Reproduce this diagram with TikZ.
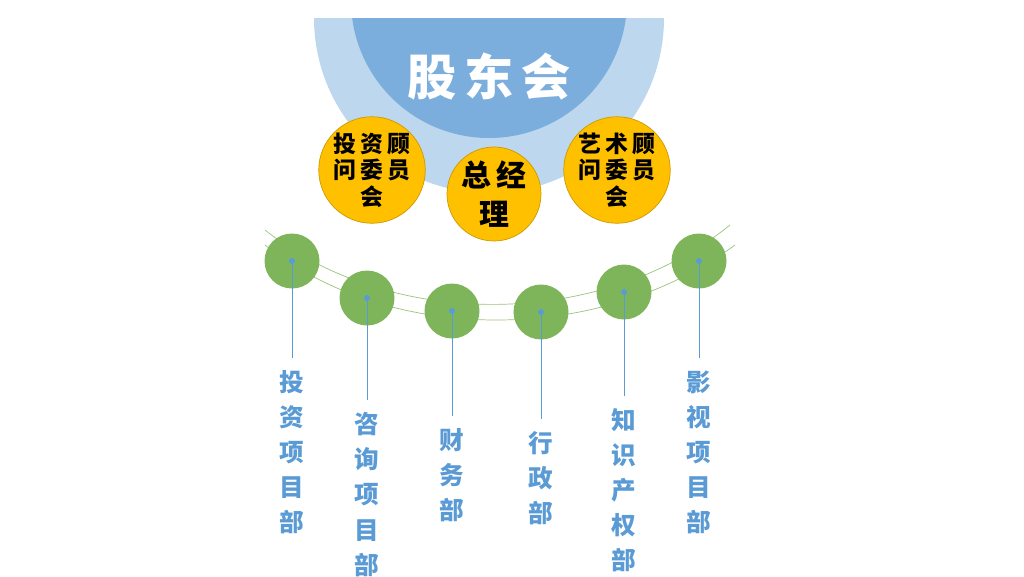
\documentclass[tikz,border=0pt]{standalone}
\usepackage{fontspec}
\newfontfamily\cjk{Noto Sans CJK SC}
\usetikzlibrary{positioning}
\definecolor{outerblue}{HTML}{BDD7EE}
\definecolor{innerblue}{HTML}{7BAEDC}
\definecolor{gold}{HTML}{FFC000}
\definecolor{leaf}{HTML}{7FB55A}
\definecolor{textblue}{HTML}{5B9BD5}
\begin{document}
\begin{tikzpicture}[x=0.02cm,y=-0.02cm,%
	board node/.style={
		circle,
		fill=gold,
		draw=gold!80!black,
		minimum size=92*0.02cm,
		inner sep=0pt,
		font=\cjk\bfseries\fontsize{13}{15}\selectfont,
		align=center
	},
	dept node/.style={
		circle,
		fill=leaf,
		minimum size=55*0.02cm,
		inner sep=0pt
	},
	label node/.style={
		anchor=north,
		inner sep=0pt,
		text=textblue,
		font=\cjk\bfseries\fontsize{14}{20}\selectfont,
		align=center
	},
]
	\useasboundingbox (0,0) rectangle (1024,576);
	\begin{scope}
		\clip (0,18) rectangle (1024,576);
		\fill[outerblue] (489,18) circle (175);
		\fill[innerblue] (489,0) circle (138);
	\end{scope}
	\node[text=white,font=\cjk\bfseries\fontsize{28}{30}\selectfont] (gdh) at (489,77) {股\,东\,会};
	\node[board node] (tz) at (372,170) {投\,资\,顾\\问\,委\,员\\会};
	\node[board node,minimum size=94*0.02cm,font=\cjk\bfseries\fontsize{17}{22}\selectfont] (zjl) at (494,194) {总\,经\\理};
	\node[board node] (ys) at (617,170) {艺\,术\,顾\\问\,委\,员\\会};
	% arcs
	\draw[leaf!80] (265,230) .. controls (390,330) and (600,330) .. (730,225);
	\draw[leaf!80] (265,245) .. controls (390,345) and (600,345) .. (735,245);
	% departments
	\foreach \name/\x/\y/\ly/\txt in {
		d1/292/261/370/投\\资\\项\\目\\部,
		d2/367/298/412/咨\\询\\项\\目\\部,
		d3/452/311/428/财\\务\\部,
		d4/541/312/431/行\\政\\部,
		d5/624/292/408/知\\识\\产\\权\\部,
		d6/699/261/370/影\\视\\项\\目\\部}{
		\node[dept node] (\name) at (\x,\y) {};
		\coordinate (\name e) at (\x,\ly-12);
		\draw[textblue] (\name.center) -- (\name e);
		\fill[textblue] (\name.center) circle (3);
		\node[label node] (\name t) at (\x,\ly) {\txt};
	}
\end{tikzpicture}
\end{document}
